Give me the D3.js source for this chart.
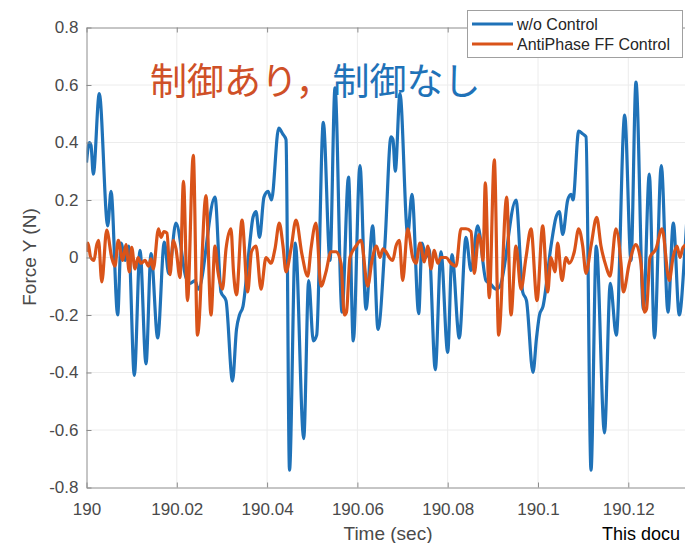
<!DOCTYPE html>
<html>
<head>
<meta charset="utf-8">
<script src="https://cdn.jsdelivr.net/npm/d3@7"></script>
<style>
  body { margin: 0; background: #fff; }
  svg { display: block; }
</style>
</head>
<body>
<div id="chart"></div>
<script>
// time is stored as ms after 190 s, force in N
const woTimeMs = [0, 0.62, 1.00, 1.51, 2.83, 4.70, 5.43, 6.91, 7.64, 8.59, 9.35, 10.59, 11.85, 13.18, 14.29, 15.77, 17.23, 18.21, 19.82,
  22.04, 22.92, 24.03, 24.76, 28.46, 29.79, 30.90, 32.34, 33.22, 33.89, 34.66, 36.10, 36.88, 37.54, 38.32, 39.31, 40.20, 40.97,
  42.57, 43.45, 44.19, 44.96, 46.25, 48.11, 49.21, 50.23, 50.98, 52.45, 53.93, 55.04, 56.59, 58.03, 59.09, 60.57, 61.90, 63.39,
  64.56, 66.11, 67.44, 67.88, 68.39, 69.43, 71.14, 72.09, 73.58, 74.31, 75.19, 75.86, 77.25, 78.51, 80.00, 80.95, 82.57, 84.05,
  85.16, 86.64, 88.48, 89.37, 90.70, 91.58, 95.12, 96.61, 97.45, 98.89, 99.67, 100.33, 101.11, 102.88, 103.99, 104.72, 105.47,
  106.58, 107.31, 107.75, 109.01, 109.90, 110.63, 111.74, 112.91, 114.73, 116.01, 117.34, 119.20, 120.60, 121.70, 123.36,
  124.65, 125.80, 127.31, 128.79, 129.97, 131.29, 132.56, 133.89];
const woForce = [0.33, 0.40, 0.39, 0.29, 0.57, 0.11, 0.23, -0.20, 0.05, -0.01, 0.04, -0.41, 0.025, -0.37, 0.014, -0.28, 0.054, -0.056, 0.12,
  -0.07, -0.09, -0.08, -0.11, 0.21, -0.12, -0.15, -0.43, -0.25, -0.20, -0.17, 0.04, 0.14, 0.16, 0.07, 0.21, 0.23, 0.20,
  0.45, 0.43, 0.41, -0.74, 0.05, -0.63, -0.08, -0.29, -0.27, 0.47, -0.01, 0.59, -0.19, 0.28, -0.29, 0.32, -0.18, 0.11,
  -0.25, 0.05, 0.42, 0.41, 0.30, 0.57, 0.08, 0.22, -0.195, 0.05, 0.0, 0.03, -0.39, 0.02, -0.33, 0.01, -0.28, 0.07,
  -0.045, 0.11, -0.08, -0.09, -0.11, -0.10, 0.20, -0.12, -0.15, -0.40, -0.28, -0.20, -0.17, 0.04, 0.14, 0.16, 0.08,
  0.20, 0.22, 0.20, 0.44, 0.43, 0.42, -0.74, 0.04, -0.61, -0.09, -0.27, 0.495, -0.01, 0.61, -0.18,
  0.29, -0.28, 0.32, -0.19, 0.12, -0.20, 0.03, 0.40];

const ffTimeMs = [0, 0.33, 0.93, 1.66, 2.21, 2.66, 3.39, 4.47, 5.58, 6.31, 7.04, 8.02, 8.75, 9.48, 10.01, 10.74, 11.41, 12.07, 12.96,
  13.73, 14.29, 14.79, 15.95, 16.50, 17.16, 17.83, 18.49, 19.22, 19.82, 20.71, 21.48, 22.37, 23.65, 24.58, 26.47, 27.57,
  28.46, 29.12, 30.12, 30.90, 32.00, 32.56, 33.22, 34.44, 35.70, 36.54, 37.54, 38.65, 39.76, 40.86, 41.75, 42.70, 43.52,
  44.19, 45.29, 46.40, 47.73, 48.99, 49.72, 50.83, 51.94, 53.04, 54.15, 55.26, 56.37, 57.10, 57.58, 58.36, 59.69, 60.80,
  62.28, 63.23, 64.23, 65.00, 65.67, 66.33, 67.06, 67.82, 68.55, 69.28, 70.03, 71.14, 72.25, 72.98, 73.86, 74.82, 75.57,
  76.30, 77.03, 77.78, 78.51, 79.62, 80.73, 81.84, 82.94, 84.05, 85.16, 85.89, 86.87, 87.37, 87.82, 88.33, 89.21, 90.32,
  91.29, 93.07, 94.02, 95.12, 96.23, 97.34, 98.45, 99.78, 101.04, 102.15, 102.88, 103.76, 104.36, 105.31, 106.20, 106.93,
  108.04, 109.01, 109.90, 110.63, 111.74, 113.00, 113.95, 115.06, 115.94, 117.27, 118.38, 118.89, 120.22, 121.70, 122.81,
  123.54, 124.03, 124.80, 126.13, 127.46, 129.08, 129.90, 130.78, 131.45, 132.11, 133.66];
const ffForce = [0.02, 0.05, 0.0, -0.01, 0.04, 0.06, -0.085, 0.095, 0.0, -0.03, 0.06, -0.01, 0.045, -0.05, 0.035, -0.04, 0.0, -0.02, -0.01,
  -0.03, -0.005, -0.04, 0.10, 0.07, 0.09, 0.085, -0.06, 0.06, 0.03, -0.07, 0.265, -0.15, 0.355, -0.27, 0.215, -0.20,
  0.04, -0.05, -0.11, 0.03, 0.10, -0.05, -0.13, 0.13, -0.12, 0.02, 0.04, -0.11, 0.0, -0.02, 0.03, 0.12, 0.04,
  -0.05, 0.03, 0.13, 0.01, -0.065, 0.03, 0.12, -0.10, -0.05, 0.02, 0.02, -0.02, -0.20, -0.19, 0.0, 0.04, 0.06,
  -0.10, -0.01, 0.04, 0.0, 0.03, 0.02, 0.0, -0.01, 0.04, 0.06, -0.08, 0.10, 0.0, -0.02, 0.05, -0.015, 0.04,
  -0.04, 0.025, -0.02, 0.0, 0.0, -0.02, -0.03, 0.10, 0.10, 0.09, -0.055, 0.08, 0.05, -0.01, 0.26, -0.14, 0.34,
  -0.27, 0.21, -0.20, 0.04, -0.11, 0.0, 0.10, -0.15, 0.11, -0.12, 0.0, -0.05, 0.05, -0.08, 0.0, -0.02,
  0.02, 0.10, 0.04, -0.055, 0.04, 0.14, 0.04, -0.03, -0.065, 0.10, -0.02, -0.12, -0.02, 0.045, -0.02,
  -0.19, -0.18, 0.0, 0.03, 0.10, -0.08, 0.0, 0.04, 0.0, 0.035, 0.05];

const xTicks = [190, 190.02, 190.04, 190.06, 190.08, 190.1, 190.12];
const xTickLabels = ["190", "190.02", "190.04", "190.06", "190.08", "190.1", "190.12"];
const yTicks = [-0.8, -0.6, -0.4, -0.2, 0, 0.2, 0.4, 0.6, 0.8];
const yTickLabels = ["-0.8", "-0.6", "-0.4", "-0.2", "0", "0.2", "0.4", "0.6", "0.8"];
const seriesNames = ["w/o Control", "AntiPhase FF Control"];

let width = 685, height = 543;
let m = {left: 86.5, top: 27.5, bottom: 487.5, right: 718.6}; // right edge is off the window
let blue = "#1f72b8", orange = "#d95319";
let font = "'Liberation Sans', Arial, Helvetica, sans-serif";

let svg = d3.select("#chart").append("svg")
    .attr("width", width)
    .attr("height", height)
    .style("font-family", font);

let x = d3.scaleLinear([190, 190.14], [m.left, m.right]);
let y = d3.scaleLinear([-0.8, 0.8], [m.bottom, m.top]);

// grid
svg.append("g")
    .selectAll("line")
    .data(xTicks.slice(1))
    .join("line")
        .attr("x1", d => x(d)).attr("x2", d => x(d))
        .attr("y1", m.top).attr("y2", m.bottom)
        .attr("stroke", "#ececec");
svg.append("g")
    .selectAll("line")
    .data(yTicks.slice(1, -1))
    .join("line")
        .attr("x1", m.left).attr("x2", m.right)
        .attr("y1", d => y(d)).attr("y2", d => y(d))
        .attr("stroke", "#ececec");

svg.append("clipPath").attr("id", "plot-clip")
  .append("rect")
    .attr("x", m.left).attr("y", m.top)
    .attr("width", m.right - m.left).attr("height", m.bottom - m.top);

let line = d3.line()
    .x(d => x(190 + d[0] / 1000))
    .y(d => y(d[1]))
    .curve(d3.curveMonotoneX);

let series = [
    {color: blue, pts: d3.zip(woTimeMs, woForce)},
    {color: orange, pts: d3.zip(ffTimeMs, ffForce)}
];

svg.append("g")
    .attr("clip-path", "url(#plot-clip)")
    .attr("fill", "none")
    .attr("stroke-width", 3.2)
    .attr("stroke-linejoin", "round")
  .selectAll("path")
  .data(series)
  .join("path")
    .attr("stroke", d => d.color)
    .attr("d", d => line(d.pts));

// axes (ticks point inward, like matlab)
let axisColor = "#8c8c8c", labelColor = "#4a4a4a";

function styleAxis(g) {
    g.select(".domain").attr("stroke", axisColor);
    g.selectAll(".tick line").attr("stroke", axisColor);
    g.selectAll(".tick text").attr("fill", labelColor).style("font-size", "17px");
}

svg.append("g")
    .attr("transform", `translate(0,${m.bottom})`)
    .call(d3.axisBottom(x).tickValues(xTicks).tickFormat((d, i) => xTickLabels[i])
        .tickSizeInner(-5).tickSizeOuter(0).tickPadding(15))
    .call(styleAxis);

svg.append("g")
    .attr("transform", `translate(0,${m.top})`)
    .call(d3.axisTop(x).tickValues(xTicks).tickFormat("")
        .tickSizeInner(-5).tickSizeOuter(0))
    .call(styleAxis);

svg.append("g")
    .attr("transform", `translate(${m.left},0)`)
    .call(d3.axisLeft(y).tickValues(yTicks).tickFormat((d, i) => yTickLabels[i])
        .tickSizeInner(-5).tickSizeOuter(0).tickPadding(8))
    .call(styleAxis);

// axis titles
svg.append("text")
    .attr("x", 388).attr("y", 540)
    .attr("text-anchor", "middle")
    .attr("fill", labelColor)
    .style("font-size", "19px")
    .text("Time (sec)");

svg.append("text")
    .attr("transform", "translate(36,257) rotate(-90)")
    .attr("text-anchor", "middle")
    .attr("fill", labelColor)
    .style("font-size", "19px")
    .text("Force Y (N)");

// annotation in japanese
let note = svg.append("text")
    .attr("x", 150).attr("y", 95)
    .style("font-family", "'Noto Sans CJK JP', sans-serif")
    .style("font-size", "37px");
note.append("tspan").attr("fill", "#cf5027").text("制御あり，");
note.append("tspan").attr("fill", "#1f72b8").text("制御なし");

// legend
let legend = svg.append("g");
legend.append("rect")
    .attr("x", 467.5).attr("y", 10.5)
    .attr("width", 215).attr("height", 47)
    .attr("fill", "#fff")
    .attr("stroke", "#a0a0a0");
legend.selectAll("g")
    .data(seriesNames)
    .join("g")
        .attr("transform", (d, i) => `translate(472,${24 + i * 20})`)
    .call(g => g.append("line")
        .attr("x1", 0).attr("x2", 41)
        .attr("stroke", (d, i) => series[i].color)
        .attr("stroke-width", 3))
    .call(g => g.append("text")
        .attr("x", 45).attr("dy", "0.35em")
        .attr("fill", "#262626")
        .style("font-size", "16px")
        .text(d => d));

// footer text, cut at the window edge as in the picture
svg.append("text")
    .attr("x", 602).attr("y", 540)
    .attr("fill", "#000")
    .style("font-size", "18px")
    .text("This docu");
</script>
</body>
</html>
